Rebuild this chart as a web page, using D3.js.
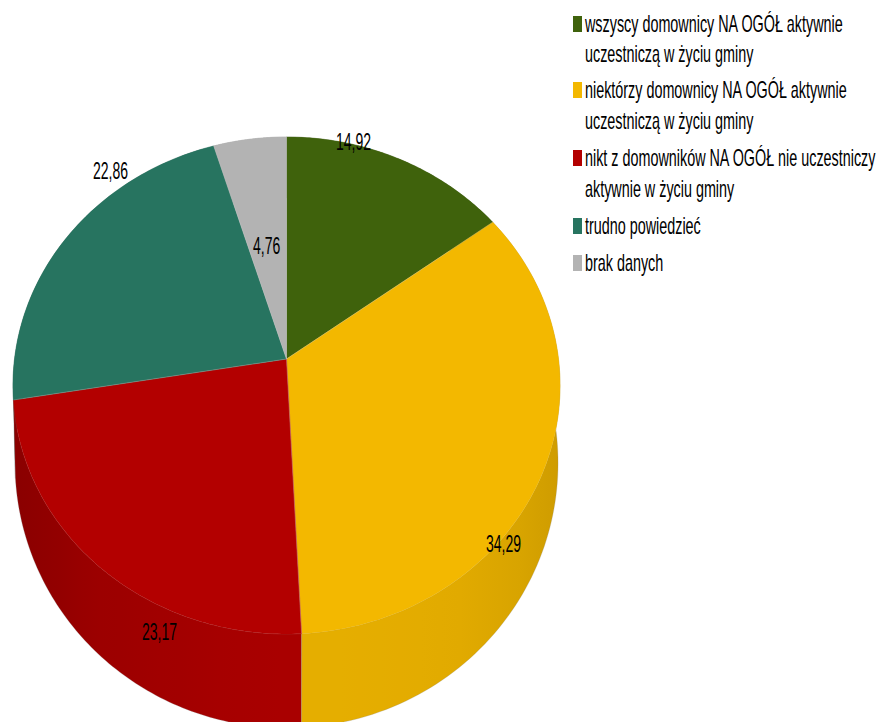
<!DOCTYPE html>
<html lang="pl">
<head>
<meta charset="utf-8">
<script src="https://cdn.jsdelivr.net/npm/d3@7"></script>
<style>
  html, body { margin: 0; background: #fff; }
  svg { display: block; }
  text { font-family: "Liberation Sans", Arial, sans-serif; fill: #000; }
</style>
</head>
<body>
<div id="chart"></div>
<script>
/* Kolowy 3D z perspektywa: d3.pie daje katy, rzutowanie na elipse robione recznie */
const kategorie = [
  ["wszyscy domownicy NA OGÓŁ aktywnie", "uczestniczą w życiu gminy"],
  ["niektórzy domownicy NA OGÓŁ aktywnie", "uczestniczą w życiu gminy"],
  ["nikt z domowników NA OGÓŁ nie uczestniczy", "aktywnie w życiu gminy"],
  ["trudno powiedzieć"],
  ["brak danych"],
];
const wartosci = [14.92, 34.29, 23.17, 22.86, 4.76];
const etykiety = ["14,92", "34,29", "23,17", "22,86", "4,76"];
const kolory = ["#3f620c", "#f3b800", "#b30000", "#277460", "#b3b3b3"];

const W = 880, H = 722;
const GORA = { sx: 272, sy: 245.7, k: 0.1066, x0: 286.5, y0: 359 };
const DOL = { sx: 270, sy: 262, k: 0.1066, x0: 286.5, y0: 434.7 };

// pozycje podpisow i legendy (lewy koniec tekstu, linia bazowa)
const podpisXY = [[336, 150], [486, 552], [142, 640], [93, 179], [253, 254]];
const legendaY = [[32, 62], [98, 129], [166, 197], [234], [271]];

const svg = d3.select("#chart").append("svg")
  .attr("width", W).attr("height", H).attr("viewBox", `0 0 ${W} ${H}`);

const rzut = (p, a) => {
  const u = Math.sin(a), v = -Math.cos(a), d = 1 - p.k * v;
  return [p.x0 + p.sx * u / d, p.y0 + p.sy * v / d];
};

const luki = d3.pie().sort(null).value((d) => d)(wartosci);
const linia = d3.line();
const probki = (d) => d3.range(0, 91).map((i) => d.startAngle + (d.endAngle - d.startAngle) * i / 90);

// cieniowanie sciany zalezy tylko od x, swiatlo z prawej
const cien = d3.scaleLinear()
  .domain([15, 100, 250, 330, 450, 520, 558])
  .range([0.77, 0.87, 0.94, 0.945, 0.93, 0.89, 0.85]);

const defs = svg.append("defs");
kolory.forEach((k, i) => {
  const c = d3.rgb(k);
  const g = defs.append("linearGradient").attr("id", `sciana${i}`)
    .attr("gradientUnits", "userSpaceOnUse")
    .attr("x1", 0).attr("x2", W).attr("y1", 0).attr("y2", 0);
  d3.range(0, W + 1, 20).forEach((x) => {
    const f = cien(Math.min(558, Math.max(15, x)));
    g.append("stop").attr("offset", x / W)
      .attr("stop-color", d3.rgb(c.r * f, c.g * f, c.b * f).formatHex());
  });
});

// sciany: najpierw tylne, przednie na wierzchu
const kolejnosc = [3, 4, 0, 2, 1];
svg.append("g").selectAll("path").data(kolejnosc.map((i) => luki[i])).join("path")
  .attr("d", (d) => {
    const a = probki(d);
    return linia([...a.map((x) => rzut(GORA, x)), ...a.slice().reverse().map((x) => rzut(DOL, x))]) + "Z";
  })
  .attr("fill", (d) => `url(#sciana${d.index})`)
  .attr("stroke", "#888").attr("stroke-opacity", 0.4).attr("stroke-width", 0.6);

// gorna powierzchnia
svg.append("g").selectAll("path").data(luki).join("path")
  .attr("d", (d) => linia([[GORA.x0, GORA.y0], ...probki(d).map((a) => rzut(GORA, a))]) + "Z")
  .attr("fill", (d) => kolory[d.index])
  .attr("stroke", (d) => kolory[d.index]).attr("stroke-width", 0.4);

// cienkie jasne linie miedzy wycinkami
svg.append("g").selectAll("line").data(luki).join("line")
  .attr("x1", GORA.x0).attr("y1", GORA.y0)
  .attr("x2", (d) => rzut(GORA, d.startAngle)[0])
  .attr("y2", (d) => rzut(GORA, d.startAngle)[1])
  .attr("stroke", "#ccc").attr("stroke-opacity", 0.5).attr("stroke-width", 0.6);

const napis = (sel, sx) => sel
  .attr("transform", (d) => `translate(${d.x},${d.y}) scale(${sx},1)`)
  .attr("font-size", 23)
  .text((d) => d.t);

svg.append("g").selectAll("text")
  .data(etykiety.map((t, i) => ({ t, x: podpisXY[i][0], y: podpisXY[i][1] })))
  .join("text").call(napis, 0.61);

// legenda
const leg = svg.append("g");
leg.selectAll("rect").data(kategorie).join("rect")
  .attr("x", 573).attr("width", 9).attr("height", 16)
  .attr("y", (d, i) => legendaY[i][0] - 16)
  .attr("fill", (d, i) => kolory[i]);
const wiersze = kategorie.flatMap((w, i) => w.map((t, j) => ({ t, x: 585, y: legendaY[i][j] })));
leg.selectAll("text").data(wiersze).join("text").call(napis, 0.625);
</script>
</body>
</html>
